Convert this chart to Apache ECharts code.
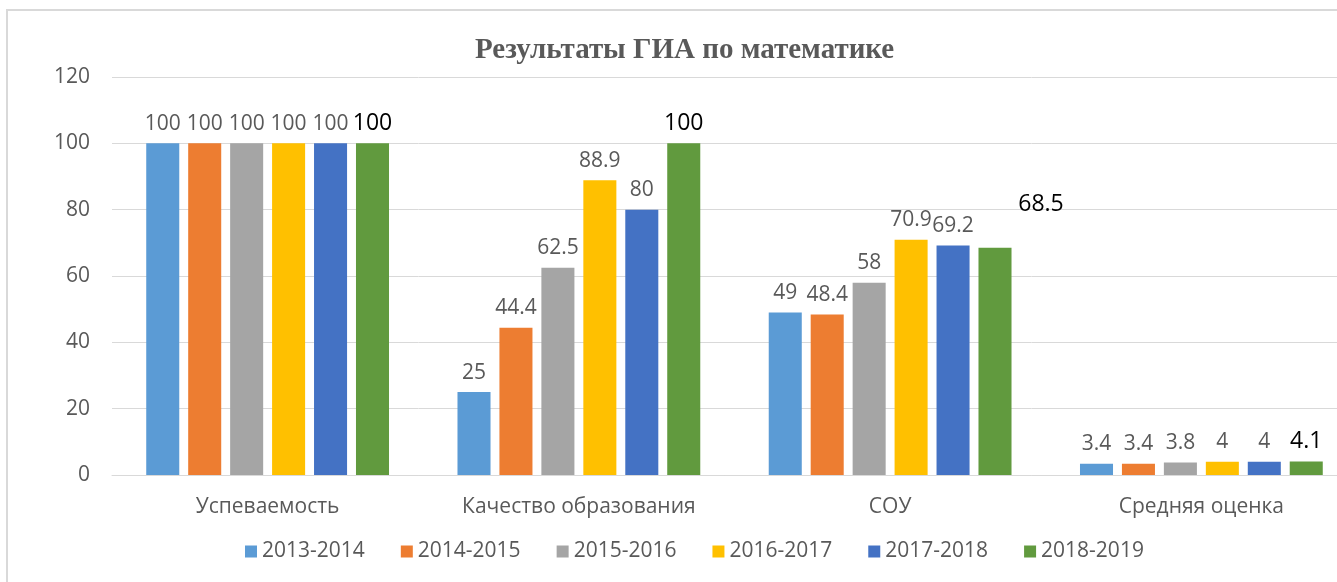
<!DOCTYPE html>
<html>
<head>
<meta charset="utf-8">
<script src="https://cdn.jsdelivr.net/npm/echarts@6/dist/echarts.min.js"></script>
<style>
  html, body { margin: 0; padding: 0; background: #fff; }
  #frame { position: absolute; left: 6px; top: 9px; width: 1400px; height: 640px; border: 2px solid #d9d9d9; box-sizing: border-box; }
  #main { position: absolute; left: 0; top: 0; width: 1337px; height: 582px; }
</style>
</head>
<body>
<div id="frame"></div>
<div id="main"></div>
<script>
// данные
var categories = ['Успеваемость', 'Качество образования', 'СОУ', 'Средняя оценка'];
var years = ['2013-2014', '2014-2015', '2015-2016', '2016-2017', '2017-2018', '2018-2019'];
var v2013 = [100, 25, 49, 3.4];
var v2014 = [100, 44.4, 48.4, 3.4];
var v2015 = [100, 62.5, 58, 3.8];
var v2016 = [100, 88.9, 70.9, 4];
var v2017 = [100, 80, 69.2, 4];
var v2018 = [100, 100, 68.5, 4.1];
var yTicks = [0, 20, 40, 60, 80, 100, 120];

var colors = ['#5b9bd5', '#ed7d31', '#a5a5a5', '#ffc000', '#4472c4', '#619a3e'];
var allValues = [v2013, v2014, v2015, v2016, v2017, v2018];
var font = '"Open Sans", sans-serif';

var myChart = echarts.init(document.getElementById('main'));

var series = years.map(function (name, i) {
    var last = i === years.length - 1;
    var data = allValues[i].map(function (v, j) {
        var item = { value: v };
        // подпись 68.5 в исходнике сдвинута
        if (last && j === 2) {
            item.label = { offset: [46, -24] };
        }
        return item;
    });
    return {
        name: name,
        type: 'bar',
        data: data,
        barGap: '27%',
        barCategoryGap: '22%',
        itemStyle: { color: colors[i] },
        label: {
            show: true,
            position: 'top',
            distance: last ? 8 : 9,
            color: last ? '#000' : '#595959',
            fontSize: last ? 23 : 21,
            fontFamily: font
        }
    };
});

option = {
    animation: false,
    title: {
        text: 'Результаты ГИА по математике',
        left: 470,
        top: 31,
        textStyle: {
            color: '#595959',
            fontSize: 29,
            fontWeight: 'bold',
            fontFamily: '"Liberation Serif", "DejaVu Serif", serif'
        }
    },
    legend: {
        data: years,
        left: 240,
        top: 536,
        itemWidth: 12,
        itemHeight: 12,
        itemGap: 36,
        icon: 'rect',
        textStyle: { color: '#595959', fontSize: 21, fontFamily: font }
    },
    grid: {
        left: 112,
        top: 77,
        width: 1245,
        height: 398,
        containLabel: false,
        outerBoundsMode: 'none'
    },
    xAxis: {
        type: 'category',
        data: categories,
        axisLine: { show: true, lineStyle: { color: '#d9d9d9', width: 1 } },
        axisTick: { show: false },
        axisLabel: { color: '#595959', fontSize: 21, fontFamily: font, margin: 22 }
    },
    yAxis: {
        type: 'value',
        min: yTicks[0],
        max: yTicks[yTicks.length - 1],
        interval: 20,
        axisLine: { show: false },
        axisTick: { show: false },
        axisLabel: { color: '#595959', fontSize: 21, fontFamily: font, margin: 22 },
        splitLine: { lineStyle: { color: '#d9d9d9', width: 1 } }
    },
    series: series
};

myChart.setOption(option);
window.addEventListener('resize', function () {
    myChart.resize();
});
</script>
</body>
</html>
